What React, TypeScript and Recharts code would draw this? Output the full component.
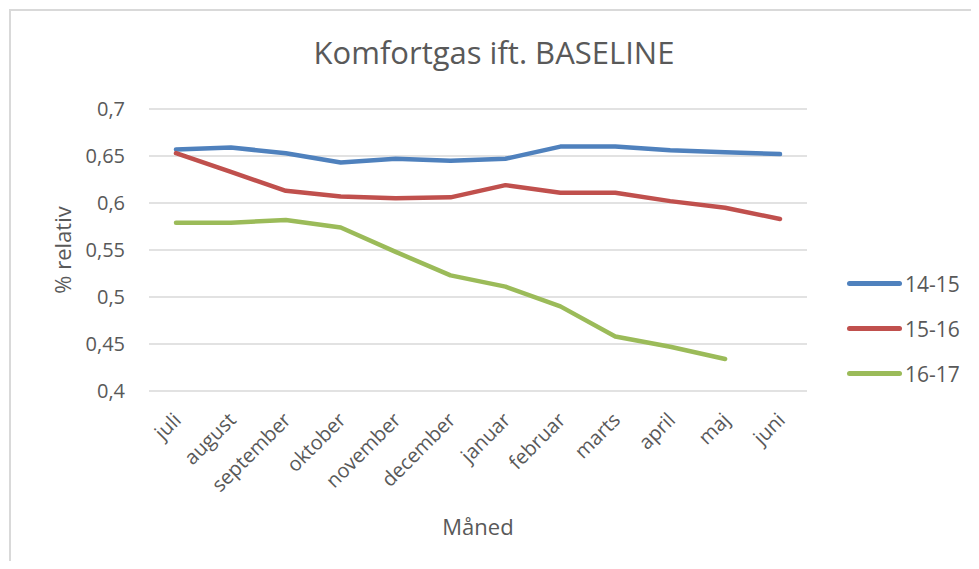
import React from 'react';
import { LineChart, Line, XAxis, YAxis, CartesianGrid } from 'recharts';

const months = ['juli', 'august', 'september', 'oktober', 'november', 'december', 'januar', 'februar', 'marts', 'april', 'maj', 'juni'];
const s1415 = [0.657, 0.659, 0.653, 0.643, 0.647, 0.645, 0.647, 0.66, 0.66, 0.656, 0.654, 0.652];
const s1516 = [0.653, 0.633, 0.613, 0.607, 0.605, 0.606, 0.619, 0.611, 0.611, 0.602, 0.595, 0.583];
const s1617 = [0.579, 0.579, 0.582, 0.574, 0.548, 0.523, 0.511, 0.49, 0.458, 0.447, 0.434, null];
const yTicks = [0.4, 0.45, 0.5, 0.55, 0.6, 0.65, 0.7];

const seriesDefs = [
  { key: '14-15', color: '#4f81bd' },
  { key: '15-16', color: '#c0504d' },
  { key: '16-17', color: '#9bbb59' },
];

const data = months.map((m, i) => ({
  month: m,
  '14-15': s1415[i],
  '15-16': s1516[i],
  '16-17': s1617[i],
}));

const FONT = '"Open Sans", sans-serif';
const TEXT = '#595959';

const MonthTick = (props: any) => {
  const { x, payload } = props;
  const tx = x + 1;
  const ty = 416;
  return (
    <text
      x={tx}
      y={ty}
      transform={`rotate(-45, ${tx}, ${ty})`}
      textAnchor="end"
      dominantBaseline="central"
      fill={TEXT}
      fontSize={20}
      fontFamily={FONT}
    >
      {payload.value}
    </text>
  );
};

// legend drawn beside the chart so it takes no space from the plot
const LegendBox = () => (
  <div style={{ position: 'absolute', left: 847, top: 261, fontFamily: FONT, color: TEXT, fontSize: 21 }}>
    {seriesDefs.map((s) => (
      <div key={s.key} style={{ display: 'flex', alignItems: 'center', height: 45 }}>
        <span style={{ display: 'inline-block', width: 55, height: 5, borderRadius: 3, background: s.color, marginRight: 3 }} />
        <span>{s.key}</span>
      </div>
    ))}
  </div>
);

export default function App() {
  return (
    <div style={{ position: 'relative', width: 979, height: 569, margin: -8, background: '#fff', overflow: 'hidden' }}>
      <div style={{ position: 'absolute', left: 9, top: 9, width: 990, height: 600, borderLeft: '2px solid #d9d9d9', borderTop: '2px solid #d9d9d9' }} />
      <div style={{ position: 'absolute', left: 0, top: 31, width: 988, textAlign: 'center', fontFamily: FONT, fontSize: 31, color: TEXT }}>
        Komfortgas ift. BASELINE
      </div>
      <div style={{ position: 'absolute', left: 0, top: 0 }}>
        <LineChart width={979} height={569} data={data} margin={{ top: 109, right: 172, bottom: 32, left: 10 }}>
          <CartesianGrid vertical={false} stroke="#d9d9d9" strokeWidth={1.5} />
          <XAxis
            dataKey="month"
            axisLine={false}
            tickLine={false}
            tick={<MonthTick />}
            interval={0}
            height={146}
            padding={{ left: 27, right: 27 }}
            label={{ value: 'Måned', position: 'insideBottom', offset: 2, fill: TEXT, fontSize: 22, fontFamily: FONT }}
          />
          <YAxis
            width={139}
            domain={[0.4, 0.7]}
            ticks={yTicks}
            interval={0}
            axisLine={false}
            tickLine={false}
            tickSize={0}
            tickMargin={24}
            tickFormatter={(v: number) => String(v).replace('.', ',')}
            tick={{ fill: TEXT, fontSize: 20, fontFamily: FONT }}
            label={{
              content: () => (
                <text x={62} y={250} transform="rotate(-90, 62, 250)" textAnchor="middle" dominantBaseline="central" fill={TEXT} fontSize={22} fontFamily={FONT}>
                  % relativ
                </text>
              ),
            }}
          />
          {seriesDefs.map((s) => (
            <Line
              key={s.key}
              type="linear"
              dataKey={s.key}
              stroke={s.color}
              strokeWidth={4.5}
              strokeLinecap="round"
              strokeLinejoin="round"
              dot={false}
              activeDot={false}
              isAnimationActive={false}
            />
          ))}
        </LineChart>
      </div>
      <LegendBox />
    </div>
  );
}
